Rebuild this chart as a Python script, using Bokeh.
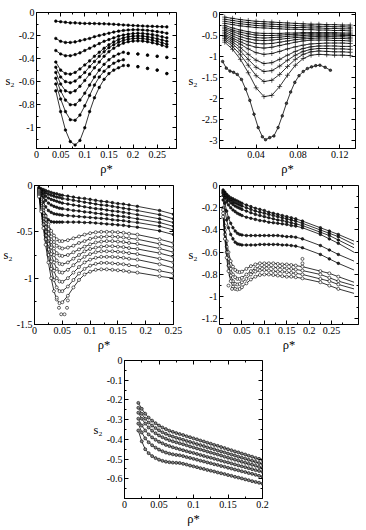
from bokeh.plotting import figure
from bokeh.layouts import column, row
from bokeh.models import LinearAxis, FixedTicker, Range1d, Spacer, CustomLabelingPolicy
from bokeh.embed import file_html
from bokeh.resources import INLINE

FONT = "Liberation Serif, Times New Roman, DejaVu Serif, serif"

# ---------------- panel 1 ----------------
x1 = [0.04, 0.05, 0.06, 0.07, 0.08, 0.09, 0.10, 0.11, 0.12, 0.13, 0.14, 0.15,
      0.16, 0.17, 0.18, 0.19, 0.20, 0.21, 0.22, 0.23, 0.24, 0.25, 0.26, 0.27]
x1_short = [0.04, 0.05, 0.06, 0.07, 0.08, 0.09, 0.10, 0.11, 0.12, 0.13, 0.14,
            0.15, 0.16, 0.17, 0.18]
s1_a = [-0.075, -0.08, -0.085, -0.09, -0.09, -0.093, -0.095, -0.095, -0.096, -0.097, -0.098, -0.10,
        -0.102, -0.105, -0.108, -0.11, -0.113, -0.115, -0.117, -0.119, -0.12, -0.122, -0.123, -0.125]
s1_b = [-0.225, -0.25, -0.26, -0.26, -0.255, -0.245, -0.235, -0.225, -0.21, -0.20, -0.19, -0.18,
        -0.17, -0.162, -0.156, -0.152, -0.15, -0.15, -0.152, -0.155, -0.16, -0.166, -0.172, -0.18]
s1_c = [-0.33, -0.36, -0.375, -0.375, -0.365, -0.35, -0.33, -0.31, -0.29, -0.27, -0.25, -0.235,
        -0.22, -0.205, -0.195, -0.188, -0.183, -0.18, -0.182, -0.186, -0.192, -0.2, -0.21, -0.22]
s1_d = [-0.43, -0.50, -0.53, -0.535, -0.52, -0.49, -0.455, -0.42, -0.38, -0.345, -0.31, -0.28,
        -0.255, -0.235, -0.22, -0.21, -0.205, -0.203, -0.205, -0.21, -0.218, -0.228, -0.238, -0.25]
s1_e = [-0.475, -0.56, -0.60, -0.61, -0.595, -0.56, -0.52, -0.47, -0.425, -0.38, -0.34, -0.305,
        -0.28, -0.258, -0.242, -0.232, -0.226, -0.224, -0.226, -0.232, -0.24, -0.25, -0.262, -0.275]
s1_f = [-0.52, -0.62, -0.68, -0.695, -0.68, -0.64, -0.59, -0.535, -0.48, -0.43, -0.38, -0.34,
        -0.31, -0.285, -0.266, -0.254, -0.248, -0.246, -0.248, -0.254, -0.262, -0.272, -0.284, -0.297]
s1_g = [-0.57, -0.68, -0.76, -0.80, -0.80, -0.76, -0.70, -0.63, -0.56, -0.50, -0.45, -0.41,
        -0.38, -0.36, -0.345]
s1_h = [-0.62, -0.75, -0.86, -0.93, -0.935, -0.89, -0.81, -0.72, -0.63, -0.56, -0.51, -0.47,
        -0.44, -0.42, -0.41]
s1_i = [-0.68, -0.86, -1.02, -1.12, -1.15, -1.11, -1.0, -0.86, -0.74, -0.65, -0.58, -0.53,
        -0.50, -0.48, -0.46]
x1_dots = [0.19, 0.21, 0.23, 0.25, 0.27]
s1_dots_hi = [-0.355, -0.36, -0.37, -0.38, -0.39]
s1_dots_lo = [-0.46, -0.47, -0.485, -0.50, -0.53]

x1_ticks = [0, 0.05, 0.1, 0.15, 0.2, 0.25]
x1_labels = ["0", "0.05", "0.1", "0.15", "0.2", "0.25"]
x1_minor = [0.025, 0.075, 0.125, 0.175, 0.225, 0.275]
y1_ticks = [0, -0.2, -0.4, -0.6, -0.8, -1.0]
y1_labels = ["0", "-0.2", "-0.4", "-0.6", "-0.8", "-1"]
y1_minor = [-0.1, -0.3, -0.5, -0.7, -0.9, -1.1]

# ---------------- panel 2 ----------------
x2 = [0.01, 0.0175, 0.025, 0.0325, 0.04, 0.0475, 0.055, 0.0625, 0.07, 0.0775, 0.085,
      0.0925, 0.1, 0.1075, 0.115, 0.1225, 0.13]
s2_t1 = [-0.06, -0.09, -0.12, -0.14, -0.16, -0.17, -0.18, -0.19, -0.20, -0.21, -0.22, -0.23, -0.23, -0.24, -0.24, -0.25, -0.25]
s2_t2 = [-0.11, -0.14, -0.17, -0.19, -0.21, -0.22, -0.23, -0.24, -0.25, -0.26, -0.27, -0.27, -0.28, -0.28, -0.29, -0.29, -0.30]
s2_t3 = [-0.16, -0.19, -0.22, -0.24, -0.26, -0.27, -0.28, -0.29, -0.30, -0.31, -0.31, -0.32, -0.32, -0.33, -0.33, -0.34, -0.34]
s2_t4 = [-0.21, -0.24, -0.27, -0.29, -0.31, -0.32, -0.33, -0.34, -0.35, -0.35, -0.36, -0.36, -0.37, -0.37, -0.38, -0.38, -0.39]
s2_m1 = [-0.26, -0.32, -0.37, -0.41, -0.44, -0.45, -0.45, -0.45, -0.44, -0.44, -0.43, -0.43, -0.43, -0.43, -0.43, -0.44, -0.44]
s2_m2 = [-0.30, -0.37, -0.42, -0.46, -0.49, -0.50, -0.50, -0.49, -0.48, -0.47, -0.46, -0.46, -0.46, -0.46, -0.46, -0.47, -0.47]
s2_m3 = [-0.34, -0.41, -0.47, -0.52, -0.55, -0.56, -0.55, -0.54, -0.52, -0.51, -0.50, -0.49, -0.49, -0.49, -0.49, -0.50, -0.50]
s2_m4 = [-0.38, -0.46, -0.53, -0.58, -0.61, -0.62, -0.61, -0.59, -0.57, -0.55, -0.54, -0.53, -0.52, -0.52, -0.53, -0.53, -0.54]
s2_m5 = [-0.42, -0.51, -0.59, -0.65, -0.69, -0.70, -0.69, -0.66, -0.63, -0.60, -0.58, -0.57, -0.56, -0.56, -0.57, -0.57, -0.58]
s2_m6 = [-0.46, -0.56, -0.65, -0.73, -0.78, -0.80, -0.78, -0.74, -0.70, -0.66, -0.63, -0.61, -0.61, -0.61, -0.62, -0.62, -0.63]
s2_d1 = [-0.50, -0.60, -0.71, -0.82, -0.91, -0.95, -0.93, -0.88, -0.82, -0.77, -0.73, -0.70, -0.69, -0.68, -0.68, -0.68, -0.69]
s2_d2 = [-0.53, -0.65, -0.79, -0.95, -1.09, -1.17, -1.15, -1.07, -0.97, -0.88, -0.81, -0.77, -0.75, -0.75, -0.75, -0.76, -0.76]
s2_d3 = [-0.57, -0.70, -0.87, -1.07, -1.26, -1.36, -1.34, -1.23, -1.09, -0.97, -0.88, -0.83, -0.81, -0.81, -0.82, -0.82, -0.83]
s2_d4 = [-0.61, -0.76, -0.96, -1.21, -1.46, -1.60, -1.57, -1.43, -1.24, -1.07, -0.95, -0.89, -0.87, -0.88, -0.89, -0.89, -0.90]
s2_d5 = [-0.66, -0.83, -1.07, -1.39, -1.75, -1.96, -1.93, -1.72, -1.45, -1.21, -1.05, -0.97, -0.95, -0.96, -0.97, -0.97, -0.98]
x2_low = [0.008, 0.0115, 0.015, 0.0185, 0.022, 0.026, 0.03, 0.034, 0.038, 0.042, 0.046, 0.049,
          0.053, 0.057, 0.061, 0.065, 0.069, 0.073, 0.077, 0.081, 0.085, 0.089, 0.093, 0.097,
          0.101, 0.106, 0.111]
s2_low = [-1.12, -1.28, -1.35, -1.38, -1.43, -1.55, -1.78, -2.05, -2.38, -2.70, -2.92, -2.99,
          -2.94, -2.90, -2.70, -2.42, -2.12, -1.85, -1.62, -1.46, -1.36, -1.29, -1.25, -1.22,
          -1.21, -1.26, -1.33]

x2_ticks = [0.04, 0.08, 0.12]
x2_labels = ["0.04", "0.08", "0.12"]
x2_minor = [0.02, 0.06, 0.1]
y2_ticks = [0, -0.5, -1.0, -1.5, -2.0, -2.5, -3.0]
y2_labels = ["0", "-0.5", "-1", "-1.5", "-2", "-2.5", "-3"]
y2_minor = [-0.25, -0.75, -1.25, -1.75, -2.25, -2.75]

# ---------------- panel 3 ----------------
x3 = [0.008, 0.012, 0.016, 0.02, 0.025, 0.03, 0.035, 0.04, 0.045, 0.05, 0.06, 0.07, 0.08,
      0.09, 0.1, 0.11, 0.12, 0.13, 0.14, 0.15, 0.16, 0.17, 0.185, 0.225, 0.25]
s3_u1 = [-0.02, -0.035, -0.045, -0.055, -0.065, -0.075, -0.085, -0.09, -0.1, -0.105, -0.115, -0.125, -0.135,
         -0.14, -0.15, -0.16, -0.17, -0.175, -0.185, -0.195, -0.2, -0.21, -0.225, -0.27, -0.31]
s3_u2 = [-0.03, -0.05, -0.065, -0.08, -0.095, -0.105, -0.115, -0.125, -0.13, -0.14, -0.15, -0.16, -0.17,
         -0.18, -0.19, -0.2, -0.21, -0.215, -0.225, -0.235, -0.245, -0.255, -0.27, -0.315, -0.36]
s3_u3 = [-0.04, -0.07, -0.095, -0.115, -0.135, -0.15, -0.16, -0.17, -0.18, -0.19, -0.2, -0.21, -0.22,
         -0.23, -0.24, -0.25, -0.255, -0.265, -0.275, -0.28, -0.29, -0.3, -0.315, -0.36, -0.40]
s3_u4 = [-0.05, -0.09, -0.13, -0.16, -0.19, -0.21, -0.225, -0.235, -0.245, -0.25, -0.26, -0.27, -0.275,
         -0.285, -0.29, -0.3, -0.305, -0.315, -0.32, -0.33, -0.335, -0.345, -0.36, -0.40, -0.44]
s3_u5 = [-0.06, -0.12, -0.18, -0.23, -0.27, -0.29, -0.305, -0.31, -0.315, -0.32, -0.325, -0.33, -0.335,
         -0.34, -0.345, -0.35, -0.355, -0.36, -0.37, -0.375, -0.38, -0.39, -0.40, -0.44, -0.48]
s3_u6 = [-0.08, -0.16, -0.25, -0.32, -0.37, -0.39, -0.395, -0.395, -0.395, -0.395, -0.395, -0.395, -0.395,
         -0.40, -0.40, -0.405, -0.41, -0.415, -0.42, -0.425, -0.43, -0.44, -0.45, -0.49, -0.53]
s3_l1 = [-0.05, -0.14, -0.24, -0.33, -0.42, -0.49, -0.54, -0.58, -0.60, -0.60, -0.59, -0.57, -0.55,
         -0.53, -0.515, -0.505, -0.50, -0.50, -0.50, -0.505, -0.51, -0.52, -0.53, -0.58, -0.62]
s3_l2 = [-0.06, -0.16, -0.27, -0.37, -0.47, -0.55, -0.61, -0.65, -0.67, -0.68, -0.67, -0.65, -0.62,
         -0.60, -0.575, -0.56, -0.555, -0.55, -0.55, -0.555, -0.56, -0.57, -0.58, -0.63, -0.67]
s3_l3 = [-0.07, -0.18, -0.30, -0.41, -0.52, -0.61, -0.68, -0.73, -0.755, -0.76, -0.75, -0.72, -0.69,
         -0.66, -0.635, -0.615, -0.605, -0.60, -0.60, -0.605, -0.61, -0.62, -0.63, -0.68, -0.72]
s3_l4 = [-0.08, -0.20, -0.33, -0.45, -0.57, -0.67, -0.75, -0.81, -0.845, -0.85, -0.83, -0.79, -0.75,
         -0.71, -0.685, -0.67, -0.66, -0.655, -0.655, -0.66, -0.665, -0.675, -0.685, -0.73, -0.77]
s3_l5 = [-0.09, -0.22, -0.36, -0.50, -0.63, -0.74, -0.83, -0.90, -0.935, -0.94, -0.91, -0.86, -0.81,
         -0.77, -0.74, -0.72, -0.71, -0.71, -0.71, -0.715, -0.72, -0.73, -0.74, -0.79, -0.83]
s3_l6 = [-0.10, -0.24, -0.39, -0.54, -0.69, -0.82, -0.92, -1.0, -1.035, -1.04, -1.0, -0.94, -0.88,
         -0.83, -0.80, -0.78, -0.77, -0.77, -0.77, -0.775, -0.78, -0.79, -0.80, -0.85, -0.89]
s3_l7 = [-0.11, -0.26, -0.42, -0.58, -0.75, -0.90, -1.02, -1.10, -1.14, -1.14, -1.09, -1.02, -0.95,
         -0.90, -0.865, -0.845, -0.835, -0.835, -0.84, -0.845, -0.85, -0.86, -0.87, -0.92, -0.95]
s3_l8 = [-0.12, -0.28, -0.46, -0.64, -0.83, -1.0, -1.14, -1.23, -1.27, -1.26, -1.19, -1.10, -1.02,
         -0.96, -0.93, -0.91, -0.905, -0.905, -0.91, -0.915, -0.92, -0.93, -0.94, -0.98, -1.0]
x3_extra = [0.04, 0.06, 0.044, 0.0585, 0.048, 0.054]
s3_extra = [-1.21, -1.24, -1.32, -1.32, -1.39, -1.39]

x3_ticks = [0, 0.05, 0.1, 0.15, 0.2, 0.25]
x3_labels = ["0", "0.05", "0.1", "0.15", "0.2", "0.25"]
x3_minor = [0.025, 0.075, 0.125, 0.175, 0.225]
y3_ticks = [0, -0.5, -1.0, -1.5]
y3_labels = ["0", "-0.5", "-1", "-1.5"]
y3_minor = [-0.25, -0.75, -1.25]

# ---------------- panel 4 ----------------
x4 = [0.008, 0.012, 0.016, 0.02, 0.025, 0.03, 0.035, 0.04, 0.045, 0.05, 0.06, 0.07, 0.08, 0.09,
      0.1, 0.11, 0.12, 0.13, 0.14, 0.15, 0.16, 0.17, 0.185, 0.225, 0.245, 0.265, 0.3]
s4_a1 = [-0.04, -0.06, -0.08, -0.095, -0.11, -0.12, -0.13, -0.14, -0.15, -0.16, -0.175, -0.19, -0.205, -0.215,
         -0.225, -0.24, -0.25, -0.26, -0.27, -0.28, -0.29, -0.30, -0.32, -0.38, -0.41, -0.44, -0.50]
s4_a2 = [-0.05, -0.075, -0.095, -0.115, -0.13, -0.145, -0.155, -0.165, -0.175, -0.185, -0.2, -0.215, -0.23, -0.24,
         -0.25, -0.26, -0.27, -0.28, -0.29, -0.30, -0.31, -0.32, -0.34, -0.40, -0.43, -0.46, -0.53]
s4_a3 = [-0.06, -0.09, -0.115, -0.135, -0.155, -0.17, -0.185, -0.195, -0.205, -0.215, -0.23, -0.245, -0.26, -0.27,
         -0.28, -0.29, -0.3, -0.31, -0.315, -0.325, -0.335, -0.345, -0.36, -0.42, -0.45, -0.49, -0.56]
s4_a4 = [-0.07, -0.11, -0.145, -0.175, -0.2, -0.22, -0.235, -0.25, -0.26, -0.27, -0.285, -0.295, -0.305, -0.315,
         -0.32, -0.33, -0.335, -0.34, -0.345, -0.35, -0.36, -0.365, -0.38, -0.44, -0.48, -0.52, -0.60]
s4_b1 = [-0.09, -0.16, -0.23, -0.29, -0.34, -0.38, -0.41, -0.43, -0.44, -0.445, -0.45, -0.45, -0.45, -0.45,
         -0.45, -0.45, -0.45, -0.45, -0.455, -0.46, -0.46, -0.465, -0.48, -0.54, -0.58, -0.62, -0.68]
s4_b2 = [-0.13, -0.22, -0.31, -0.38, -0.44, -0.48, -0.51, -0.525, -0.53, -0.535, -0.535, -0.535, -0.535, -0.53,
         -0.53, -0.53, -0.53, -0.53, -0.535, -0.535, -0.54, -0.545, -0.56, -0.62, -0.66, -0.70, -0.76]
s4_c1 = [-0.20, -0.36, -0.50, -0.60, -0.68, -0.73, -0.76, -0.775, -0.78, -0.775, -0.75, -0.725, -0.71, -0.70,
         -0.70, -0.70, -0.70, -0.705, -0.71, -0.71, -0.715, -0.72, -0.73, -0.77, -0.79, -0.82, -0.87]
s4_c2 = [-0.22, -0.40, -0.55, -0.66, -0.75, -0.80, -0.825, -0.84, -0.84, -0.83, -0.80, -0.77, -0.745, -0.735,
         -0.73, -0.73, -0.735, -0.74, -0.74, -0.745, -0.75, -0.755, -0.765, -0.80, -0.83, -0.86, -0.90]
s4_c3 = [-0.25, -0.44, -0.60, -0.72, -0.81, -0.86, -0.885, -0.89, -0.885, -0.87, -0.84, -0.80, -0.775, -0.765,
         -0.76, -0.765, -0.77, -0.775, -0.775, -0.78, -0.785, -0.79, -0.80, -0.84, -0.86, -0.89, -0.93]
s4_c4 = [-0.28, -0.48, -0.65, -0.77, -0.86, -0.91, -0.93, -0.935, -0.93, -0.915, -0.88, -0.845, -0.82, -0.805,
         -0.80, -0.80, -0.805, -0.81, -0.815, -0.82, -0.82, -0.825, -0.835, -0.87, -0.90, -0.93, -0.97]
x4_extra = [0.02, 0.028, 0.185, 0.185]
s4_extra = [-0.90, -0.93, -0.66, -0.70]

x4_ticks = [0, 0.05, 0.1, 0.15, 0.2, 0.25]
x4_labels = ["0", "0.05", "0.1", "0.15", "0.2", "0.25"]
x4_minor = [0.025, 0.075, 0.125, 0.175, 0.225, 0.275]
y4_ticks = [0, -0.2, -0.4, -0.6, -0.8, -1.0, -1.2]
y4_labels = ["0", "-0.2", "-0.4", "-0.6", "-0.8", "-1", "-1.2"]
y4_minor = [-0.1, -0.3, -0.5, -0.7, -0.9, -1.1]

# ---------------- panel 5 ----------------
x5 = [0.02, 0.025, 0.03, 0.035, 0.04, 0.045, 0.05, 0.055, 0.06, 0.065, 0.07, 0.075, 0.08,
      0.085, 0.09, 0.095, 0.1, 0.105, 0.11, 0.115, 0.12, 0.125, 0.13, 0.135, 0.14, 0.145,
      0.15, 0.155, 0.16, 0.165, 0.17, 0.175, 0.18, 0.185, 0.19, 0.195, 0.2]
s5_1 = [-0.215, -0.245, -0.27, -0.29, -0.305, -0.318, -0.33, -0.34, -0.348, -0.356, -0.362, -0.368, -0.373,
        -0.378, -0.384, -0.389, -0.395, -0.40, -0.406, -0.411, -0.417, -0.422, -0.428, -0.433, -0.439, -0.444,
        -0.45, -0.455, -0.461, -0.466, -0.472, -0.477, -0.483, -0.488, -0.494, -0.499, -0.505]
s5_2 = [-0.24, -0.27, -0.295, -0.315, -0.33, -0.343, -0.354, -0.364, -0.372, -0.38, -0.386, -0.392, -0.397,
        -0.402, -0.408, -0.413, -0.418, -0.424, -0.429, -0.434, -0.44, -0.445, -0.45, -0.456, -0.461, -0.466,
        -0.472, -0.477, -0.482, -0.488, -0.493, -0.498, -0.504, -0.509, -0.514, -0.52, -0.525]
s5_3 = [-0.265, -0.295, -0.32, -0.34, -0.356, -0.369, -0.38, -0.389, -0.397, -0.404, -0.41, -0.415, -0.42,
        -0.425, -0.43, -0.436, -0.441, -0.446, -0.451, -0.456, -0.462, -0.467, -0.472, -0.477, -0.482, -0.488,
        -0.493, -0.498, -0.503, -0.508, -0.514, -0.519, -0.524, -0.529, -0.534, -0.54, -0.545]
s5_4 = [-0.295, -0.33, -0.355, -0.375, -0.39, -0.402, -0.412, -0.42, -0.428, -0.434, -0.44, -0.445, -0.45,
        -0.455, -0.46, -0.465, -0.469, -0.474, -0.479, -0.484, -0.489, -0.493, -0.498, -0.503, -0.508, -0.513,
        -0.517, -0.522, -0.527, -0.532, -0.537, -0.541, -0.546, -0.551, -0.556, -0.56, -0.565]
s5_5 = [-0.32, -0.365, -0.395, -0.415, -0.43, -0.442, -0.452, -0.46, -0.467, -0.472, -0.476, -0.479, -0.481,
        -0.485, -0.49, -0.494, -0.499, -0.503, -0.508, -0.512, -0.517, -0.521, -0.526, -0.53, -0.535, -0.539,
        -0.544, -0.548, -0.553, -0.557, -0.562, -0.566, -0.571, -0.575, -0.58, -0.585, -0.59]
s5_6 = [-0.355, -0.41, -0.45, -0.47, -0.485, -0.495, -0.503, -0.509, -0.513, -0.516, -0.518, -0.519, -0.52,
        -0.524, -0.528, -0.533, -0.537, -0.541, -0.546, -0.55, -0.555, -0.559, -0.563, -0.568, -0.572, -0.576,
        -0.581, -0.585, -0.59, -0.594, -0.598, -0.603, -0.607, -0.612, -0.616, -0.62, -0.625]

x5_ticks = [0, 0.05, 0.1, 0.15, 0.2]
x5_labels = ["0", "0.05", "0.1", "0.15", "0.2"]
x5_minor = [0.025, 0.075, 0.125, 0.175]
y5_ticks = [0, -0.1, -0.2, -0.3, -0.4, -0.5, -0.6]
y5_labels = ["0", "-0.1", "-0.2", "-0.3", "-0.4", "-0.5", "-0.6"]
y5_minor = [-0.05, -0.15, -0.25, -0.35, -0.45, -0.55, -0.65]

# mirrored top/right axes carry ticks only: drop every label
NO_LABELS = "for (const i of Array.from(indices)) indices.unset(i); return indices"


def style_axis(ax, show_labels):
    ax.axis_line_color = "black"
    ax.axis_line_width = 1
    ax.major_tick_in = 4
    ax.major_tick_out = 0
    ax.minor_tick_in = 2
    ax.minor_tick_out = 0
    ax.major_tick_line_color = "black"
    ax.minor_tick_line_color = "black"
    ax.major_label_text_font = FONT
    ax.major_label_text_color = "black"
    ax.major_label_text_font_size = "10px"
    if show_labels:
        ax.major_label_standoff = 2
    else:
        ax.major_label_standoff = 0
        ax.major_label_policy = CustomLabelingPolicy(code=NO_LABELS)
    ax.axis_label_text_font = FONT
    ax.axis_label_text_font_size = "12.5px"
    ax.axis_label_text_font_style = "normal"
    ax.axis_label_text_color = "black"
    ax.axis_label_standoff = 1


def make_panel(size, xr, yr, border, xt, xl, xm, yt, yl, ym):
    w, h = size
    left, right, top, bottom = border
    p = figure(width=w, height=h, x_range=Range1d(*xr), y_range=Range1d(*yr),
               x_axis_type=None, y_axis_type=None, output_backend="svg",
               toolbar_location=None, min_border_left=left, min_border_right=right,
               min_border_top=top, min_border_bottom=bottom)
    p.outline_line_color = "black"
    p.background_fill_color = "white"
    p.border_fill_color = "white"

    xa = LinearAxis(ticker=FixedTicker(ticks=xt, minor_ticks=xm),
                    major_label_overrides=dict(zip(xt, xl)), axis_label="ρ*")
    style_axis(xa, True)
    p.add_layout(xa, "below")
    ya = LinearAxis(ticker=FixedTicker(ticks=yt, minor_ticks=ym),
                    major_label_overrides=dict(zip(yt, yl)), axis_label="s₂",
                    axis_label_orientation="horizontal")
    style_axis(ya, True)
    p.add_layout(ya, "left")

    # tick-only mirror axes pinned to the top and right frame edges (no border space used)
    xa_top = LinearAxis(ticker=FixedTicker(ticks=xt, minor_ticks=xm), fixed_location=yr[1])
    style_axis(xa_top, False)
    p.add_layout(xa_top, "above")
    ya_right = LinearAxis(ticker=FixedTicker(ticks=yt, minor_ticks=ym), fixed_location=xr[1])
    style_axis(ya_right, False)
    p.add_layout(ya_right, "right")
    return p


def curve(p, xs, ys, marker="circle", size=3, fill="black", mx=None, my=None, lw=0.8):
    p.line(xs, ys, line_color="black", line_width=lw)
    p.scatter(xs if mx is None else mx, ys if my is None else my, marker=marker, size=size,
              fill_color=fill, line_color="black", line_width=0.6)


# panel 1
p1 = make_panel((183, 179), (0, 0.29), (-1.18, 0), (36, 7, 11, 31),
                x1_ticks, x1_labels, x1_minor, y1_ticks, y1_labels, y1_minor)
for ys in (s1_a, s1_b, s1_c, s1_d, s1_e, s1_f):
    curve(p1, x1, ys, size=2.6)
for ys in (s1_g, s1_h, s1_i):
    curve(p1, x1_short, ys, size=2.6)
for ys in (s1_dots_hi, s1_dots_lo):
    p1.scatter(x1_dots, ys, marker="circle", size=2.6, fill_color="black", line_color="black")

# panel 2
p2 = make_panel((183, 179), (0.005, 0.135), (-3.2, 0.05), (36, 11, 12, 31),
                x2_ticks, x2_labels, x2_minor, y2_ticks, y2_labels, y2_minor)
for ys in (s2_t1, s2_t2, s2_t3, s2_t4, s2_m1, s2_m2, s2_m3, s2_m4, s2_m5, s2_m6,
           s2_d1, s2_d2, s2_d3, s2_d4, s2_d5):
    curve(p2, x2, ys, marker="cross", size=5)
curve(p2, x2_low, s2_low, size=2.6, fill="#444444")

# panel 3
p3 = make_panel((183, 175), (0, 0.25), (-1.5, 0), (32, 10, 6, 29),
                x3_ticks, x3_labels, x3_minor, y3_ticks, y3_labels, y3_minor)
for ys in (s3_u1, s3_u2, s3_u3, s3_u4, s3_u5, s3_u6):
    curve(p3, x3, ys, size=2.6, fill="#222222")
for ys in (s3_l1, s3_l2, s3_l3, s3_l4, s3_l5, s3_l6, s3_l7, s3_l8):
    curve(p3, x3, ys, size=3, fill="white")
p3.scatter(x3_extra, s3_extra, marker="circle", size=3, fill_color="white", line_color="black",
           line_width=0.6)

# panel 4
p4 = make_panel((183, 175), (0, 0.31), (-1.25, 0), (36, 8, 6, 30),
                x4_ticks, x4_labels, x4_minor, y4_ticks, y4_labels, y4_minor)
for ys in (s4_a1, s4_a2, s4_a3, s4_a4, s4_b1, s4_b2):
    curve(p4, x4, ys, size=2.6, fill="#222222", mx=x4[:-1], my=ys[:-1])
for ys in (s4_c1, s4_c2, s4_c3, s4_c4):
    curve(p4, x4, ys, size=3, fill="white", mx=x4[:-1], my=ys[:-1])
p4.scatter(x4_extra, s4_extra, marker="circle", size=3, fill_color="white", line_color="black",
           line_width=0.6)

# panel 5
p5 = make_panel((183, 176), (0, 0.2), (-0.7, 0), (33, 11, 6, 32),
                x5_ticks, x5_labels, x5_minor, y5_ticks, y5_labels, y5_minor)
for ys in (s5_1, s5_2, s5_3, s5_4, s5_5, s5_6):
    curve(p5, x5, ys, size=3, fill="#888888")

layout = column(row(p1, p2), row(p3, p4), row(Spacer(width=90, height=176), p5))

with open("out.html", "w") as f:
    f.write(file_html(layout, INLINE))
